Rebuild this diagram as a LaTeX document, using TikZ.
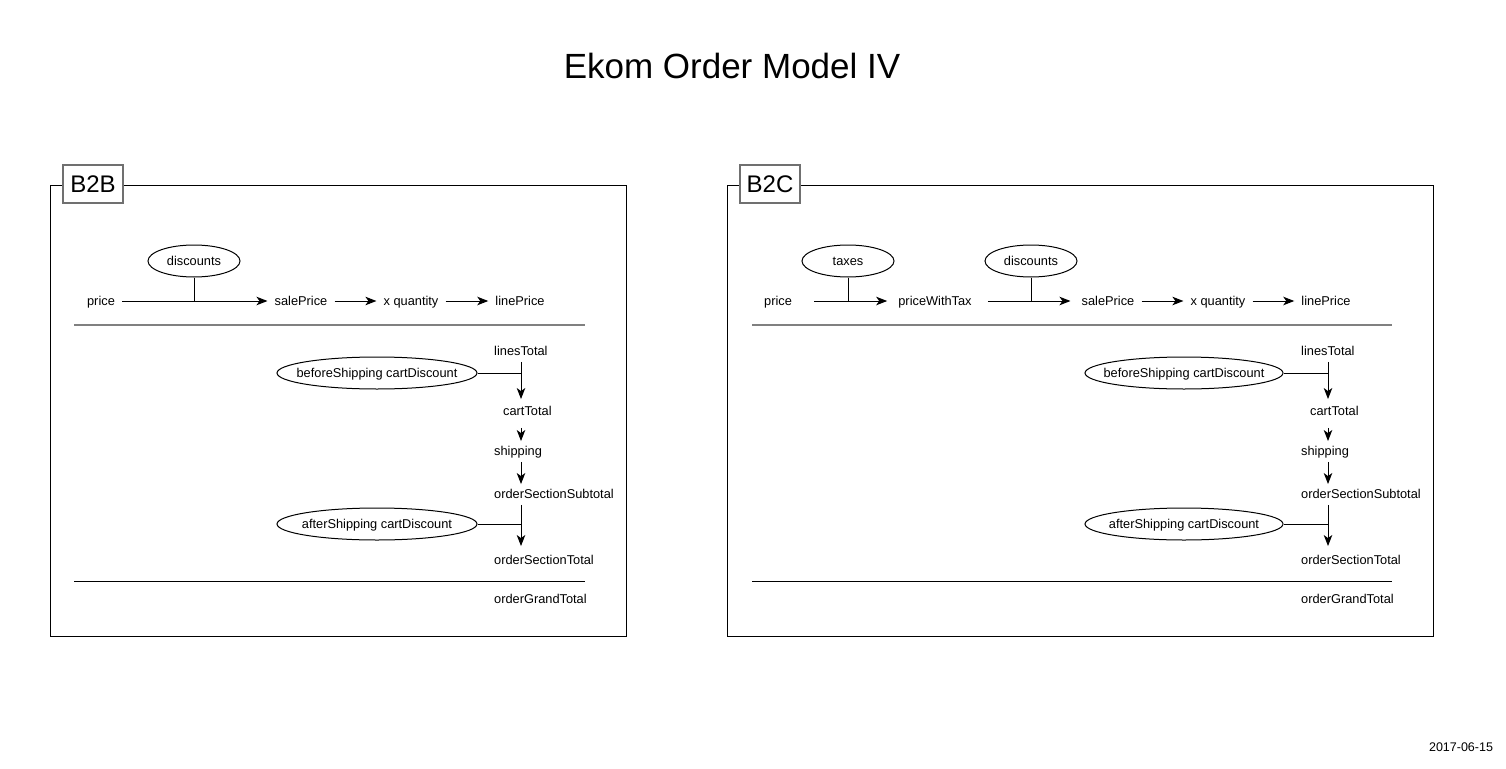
\documentclass[tikz,border=0pt]{standalone}
\usepackage{fontspec}
\setmainfont{Liberation Sans}
\usetikzlibrary{shapes.geometric, arrows.meta}
\definecolor{rulegray}{RGB}{128,128,128}
\definecolor{taggray}{RGB}{112,112,112}

\begin{document}
\begin{tikzpicture}[
    x=1pt, y=-1pt,
    panel/.style={draw=black, line width=1pt},
    tag/.style={rectangle, draw=taggray, line width=1.5pt, fill=white, minimum width=60pt, minimum height=38pt, inner sep=0pt, font=\fontsize{24}{28}\selectfont},
    val/.style={inner xsep=7pt, inner ysep=3pt, text height=10pt, text depth=1.5pt, font=\fontsize{12.8}{15}\selectfont},
    adj/.style={ellipse, draw=black, line width=1pt, inner xsep=-20pt, inner ysep=0pt, minimum height=32pt, text height=10pt, text depth=1.5pt, font=\fontsize{12.8}{15}\selectfont},
    arrow/.style={line width=1pt, -{Stealth[length=11pt, width=8.5pt, inset=3pt]}},
    down/.style={arrow, shorten <=2pt, shorten >=3pt},
    tieline/.style={line width=1pt},
    toprule/.style={draw=rulegray, line width=2pt},
    botrule/.style={draw=black, line width=1pt}
]
\useasboundingbox (0,0) rectangle (1506,768);

\node (title) at (732,66) {\fontsize{35}{40}\selectfont Ekom Order Model IV};
\node (date) at (1461,747) {\fontsize{12.5}{14}\selectfont 2017-06-15};

% ---------- B2B ----------
\draw [panel] (50,185) rectangle (626,636);
\node (bb-tag) [tag] at (93,184) {B2B};

\node (bb-price) [val] at (101,301) {price};
\node (bb-sale) [val] at (301,301) {salePrice};
\node (bb-qty) [val] at (411,301) {x quantity};
\node (bb-line) [val] at (520,301) {linePrice};
\node (bb-disc) [adj, minimum width=92pt] at (194,261) {discounts};

\draw [arrow] (bb-price) -- (bb-sale);
\draw [arrow] (bb-sale) -- (bb-qty);
\draw [arrow] (bb-qty) -- (bb-line);
\draw [tieline] (bb-disc.south) -- (bb-disc.south |- bb-price.east);

\draw [toprule] (74,325) -- (585,325);

\coordinate (bb-axis) at (521,0);
\node (bb-lt) [val, anchor=west] at (487,351) {linesTotal};
\node (bb-ct) [val, anchor=west] at (496,411) {cartTotal};
\node (bb-sh) [val, anchor=west] at (487,451) {shipping};
\node (bb-oss) [val, anchor=west] at (487,494) {orderSectionSubtotal};
\node (bb-ost) [val, anchor=west] at (487,560) {orderSectionTotal};
\node (bb-ogt) [val, anchor=west] at (487,599) {orderGrandTotal};
\node (bb-bsd) [adj, minimum width=200pt] at (377,373) {beforeShipping cartDiscount};
\node (bb-asd) [adj, minimum width=200pt] at (377,524) {afterShipping cartDiscount};

\draw [down] (bb-lt.south -| bb-axis) -- (bb-ct.north -| bb-axis);
\draw [down, shorten <=8pt, shorten >=1pt] (bb-ct.south -| bb-axis) -- (bb-sh.north -| bb-axis);
\draw [down, shorten >=1pt] (bb-sh.south -| bb-axis) -- (bb-oss.north -| bb-axis);
\draw [down, shorten >=5pt] (bb-oss.south -| bb-axis) -- (bb-ost.north -| bb-axis);
\draw [tieline] (bb-bsd.east) -- (bb-bsd.east -| bb-axis);
\draw [tieline] (bb-asd.east) -- (bb-asd.east -| bb-axis);

\draw [botrule] (74,581) -- (585,581);

% ---------- B2C ----------
\draw [panel] (727,185) rectangle (1433,636);
\node (bc-tag) [tag] at (770,184) {B2C};

\node (bc-price) [val] at (778,301) {price};
\node (bc-pwt) [val] at (935,301) {priceWithTax};
\node (bc-sale) [val] at (1108,301) {salePrice};
\node (bc-qty) [val] at (1218,301) {x quantity};
\node (bc-line) [val] at (1326,301) {linePrice};
\node (bc-tax) [adj, minimum width=92pt] at (848,261) {taxes};
\node (bc-disc) [adj, minimum width=92pt] at (1031,261) {discounts};

\draw [arrow, shorten <=15pt, shorten >=4pt] (bc-price) -- (bc-pwt);
\draw [arrow, shorten <=9pt, shorten >=4pt] (bc-pwt) -- (bc-sale);
\draw [arrow] (bc-sale) -- (bc-qty);
\draw [arrow] (bc-qty) -- (bc-line);
\draw [tieline] (bc-tax.south) -- (bc-tax.south |- bc-price.east);
\draw [tieline] (bc-disc.south) -- (bc-disc.south |- bc-price.east);

\draw [toprule] (752,325) -- (1392,325);

\coordinate (bc-axis) at (1328,0);
\node (bc-lt) [val, anchor=west] at (1294,351) {linesTotal};
\node (bc-ct) [val, anchor=west] at (1303,411) {cartTotal};
\node (bc-sh) [val, anchor=west] at (1294,451) {shipping};
\node (bc-oss) [val, anchor=west] at (1294,494) {orderSectionSubtotal};
\node (bc-ost) [val, anchor=west] at (1294,560) {orderSectionTotal};
\node (bc-ogt) [val, anchor=west] at (1294,599) {orderGrandTotal};
\node (bc-bsd) [adj, minimum width=198pt] at (1184,373) {beforeShipping cartDiscount};
\node (bc-asd) [adj, minimum width=198pt] at (1184,524) {afterShipping cartDiscount};

\draw [down] (bc-lt.south -| bc-axis) -- (bc-ct.north -| bc-axis);
\draw [down, shorten <=8pt, shorten >=1pt] (bc-ct.south -| bc-axis) -- (bc-sh.north -| bc-axis);
\draw [down, shorten >=1pt] (bc-sh.south -| bc-axis) -- (bc-oss.north -| bc-axis);
\draw [down, shorten >=5pt] (bc-oss.south -| bc-axis) -- (bc-ost.north -| bc-axis);
\draw [tieline] (bc-bsd.east) -- (bc-bsd.east -| bc-axis);
\draw [tieline] (bc-asd.east) -- (bc-asd.east -| bc-axis);

\draw [botrule] (752,581) -- (1392,581);

\end{tikzpicture}
\end{document}
